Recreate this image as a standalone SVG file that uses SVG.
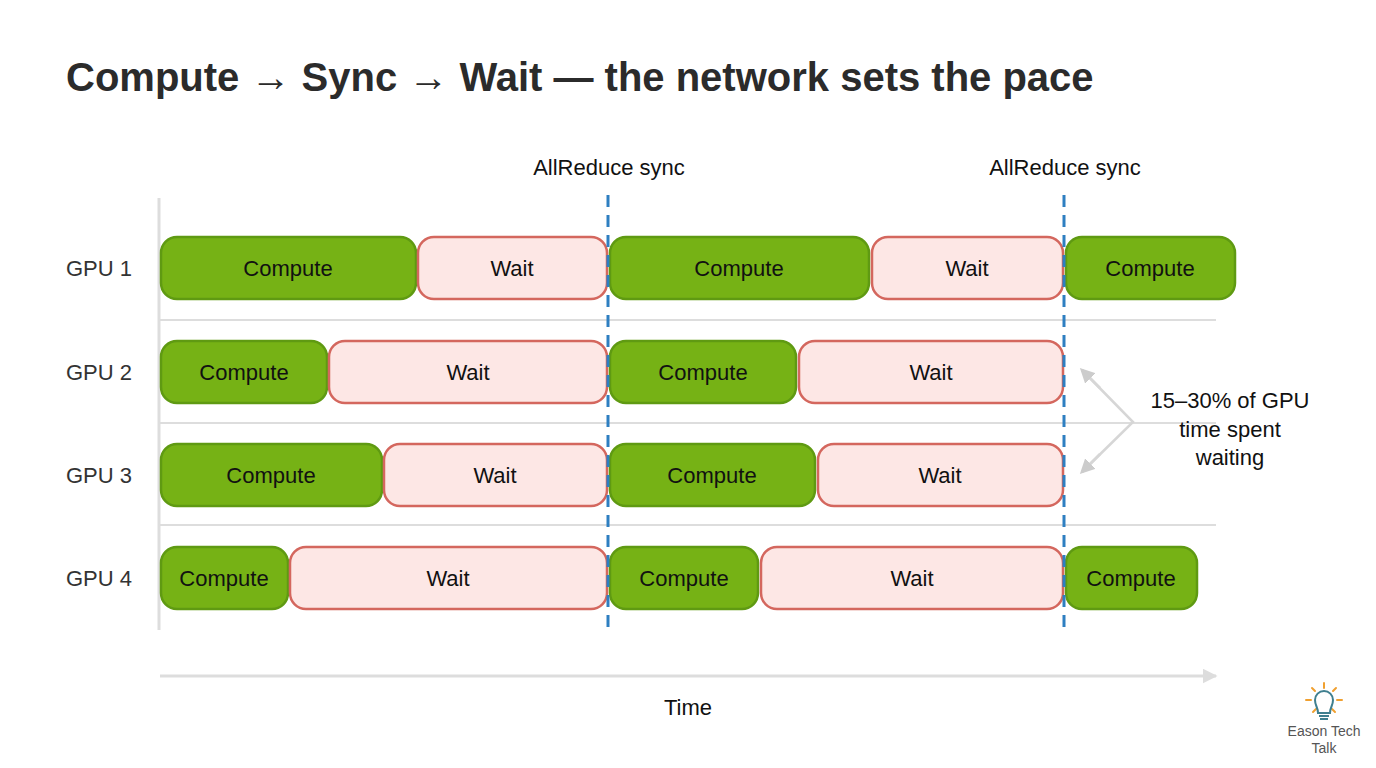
<svg xmlns="http://www.w3.org/2000/svg" width="1376" height="768" viewBox="0 0 1376 768">
<style>
text{font-family:"Liberation Sans",Arial,sans-serif;}
.c{fill:#76b215;stroke:#5f9a12;stroke-width:2.5}
.w{fill:#fde7e5;stroke:#d4675e;stroke-width:2.5}
.t{font-size:22px;fill:#111;text-anchor:middle;dominant-baseline:central}
.g{font-size:22px;fill:#333;dominant-baseline:central}
.sep{stroke:#dddddd;stroke-width:2}
.dash{stroke:#2e7fc1;stroke-width:3;stroke-dasharray:12,8}
</style>
<defs>
<marker id="ah" viewBox="0 0 10 10" refX="9" refY="5" markerWidth="5" markerHeight="5" orient="auto"><path d="M0,0 L10,5 L0,10 z" fill="#dddddd"/></marker>
<marker id="ah2" viewBox="0 0 10 10" refX="8" refY="5" markerWidth="6" markerHeight="6" orient="auto"><path d="M0,0 L10,5 L0,10 z" fill="#cccccc"/></marker>
</defs>
<rect width="1376" height="768" fill="#fff"/>
<text x="66" y="77" font-size="40" font-weight="bold" fill="#2b2b2b" dominant-baseline="central">Compute → Sync → Wait — the network sets the pace</text>
<g id="axes">
<line x1="159" y1="198" x2="159" y2="630" stroke="#dddddd" stroke-width="3"/>
<line class="sep" x1="160" y1="320" x2="1216" y2="320"/>
<line class="sep" x1="160" y1="423" x2="1216" y2="423"/>
<line class="sep" x1="160" y1="525" x2="1216" y2="525"/>
<line x1="160" y1="676" x2="1216" y2="676" stroke="#dddddd" stroke-width="3" marker-end="url(#ah)"/>
<text x="688" y="707" class="t" fill="#333">Time</text>
</g>
<g id="labels">
<text class="g" x="66" y="268">GPU 1</text>
<text class="g" x="66" y="372">GPU 2</text>
<text class="g" x="66" y="475">GPU 3</text>
<text class="g" x="66" y="578">GPU 4</text>
<text class="t" x="609" y="167" fill="#222">AllReduce sync</text>
<text class="t" x="1065" y="167" fill="#222">AllReduce sync</text>
</g>
<g id="gpu1">
<rect class="c" x="161" y="237" width="255" height="62" rx="16"/><text class="t" x="288" y="268">Compute</text>
<rect class="w" x="418" y="237" width="189" height="62" rx="16"/><text class="t" x="512" y="268">Wait</text>
<rect class="c" x="610" y="237" width="259" height="62" rx="16"/><text class="t" x="739" y="268">Compute</text>
<rect class="w" x="872" y="237" width="191" height="62" rx="16"/><text class="t" x="967" y="268">Wait</text>
<rect class="c" x="1066" y="237" width="169" height="62" rx="16"/><text class="t" x="1150" y="268">Compute</text>
</g>
<g id="gpu2">
<rect class="c" x="161" y="341" width="166" height="62" rx="16"/><text class="t" x="244" y="372">Compute</text>
<rect class="w" x="329" y="341" width="278" height="62" rx="16"/><text class="t" x="468" y="372">Wait</text>
<rect class="c" x="610" y="341" width="186" height="62" rx="16"/><text class="t" x="703" y="372">Compute</text>
<rect class="w" x="799" y="341" width="264" height="62" rx="16"/><text class="t" x="931" y="372">Wait</text>
</g>
<g id="gpu3">
<rect class="c" x="161" y="444" width="221" height="62" rx="16"/><text class="t" x="271" y="475">Compute</text>
<rect class="w" x="384" y="444" width="223" height="62" rx="16"/><text class="t" x="495" y="475">Wait</text>
<rect class="c" x="610" y="444" width="205" height="62" rx="16"/><text class="t" x="712" y="475">Compute</text>
<rect class="w" x="818" y="444" width="245" height="62" rx="16"/><text class="t" x="940" y="475">Wait</text>
</g>
<g id="gpu4">
<rect class="c" x="161" y="547" width="127" height="62" rx="16"/><text class="t" x="224" y="578">Compute</text>
<rect class="w" x="290" y="547" width="317" height="62" rx="16"/><text class="t" x="448" y="578">Wait</text>
<rect class="c" x="610" y="547" width="148" height="62" rx="16"/><text class="t" x="684" y="578">Compute</text>
<rect class="w" x="761" y="547" width="302" height="62" rx="16"/><text class="t" x="912" y="578">Wait</text>
<rect class="c" x="1066" y="547" width="131" height="62" rx="16"/><text class="t" x="1131" y="578">Compute</text>
</g>
<g id="connectors">
<line class="dash" x1="608" y1="195" x2="608" y2="635"/>
<line class="dash" x1="1064" y1="195" x2="1064" y2="635"/>
<polyline points="1082,370 1133,422 1082,472" fill="none" stroke="#d6d6d6" stroke-width="2.5"/>
<line x1="1100" y1="388" x2="1082" y2="370" stroke="#d6d6d6" stroke-width="2.5" marker-end="url(#ah2)"/>
<line x1="1100" y1="454" x2="1082" y2="472" stroke="#d6d6d6" stroke-width="2.5" marker-end="url(#ah2)"/>
</g>
<g id="note">
<text class="t" x="1230" y="400" fill="#333">15–30% of GPU</text>
<text class="t" x="1230" y="429" fill="#333">time spent</text>
<text class="t" x="1230" y="457" fill="#333">waiting</text>
</g>
<g id="logo">
<g stroke="#f0a030" stroke-width="2" stroke-linecap="round">
<line x1="1324" y1="683" x2="1324" y2="688"/><line x1="1312" y1="688" x2="1315" y2="691"/><line x1="1336" y1="688" x2="1333" y2="691"/>
<line x1="1306" y1="700" x2="1311" y2="700"/><line x1="1337" y1="700" x2="1342" y2="700"/>
<line x1="1313" y1="712" x2="1316" y2="709"/><line x1="1335" y1="712" x2="1332" y2="709"/>
</g>
<path d="M1318,713 C1318,707 1315,706 1315,700 A9,9 0 1 1 1333,700 C1333,706 1330,707 1330,713 Z" fill="none" stroke="#3f7f8f" stroke-width="2"/>
<line x1="1319" y1="716" x2="1329" y2="716" stroke="#3f7f8f" stroke-width="2"/>
<line x1="1320" y1="719" x2="1328" y2="719" stroke="#3f7f8f" stroke-width="2"/>
<text x="1324" y="731" font-size="14" fill="#555" text-anchor="middle" dominant-baseline="central">Eason Tech</text>
<text x="1324" y="748" font-size="14" fill="#555" text-anchor="middle" dominant-baseline="central">Talk</text>
</g>
</svg>
